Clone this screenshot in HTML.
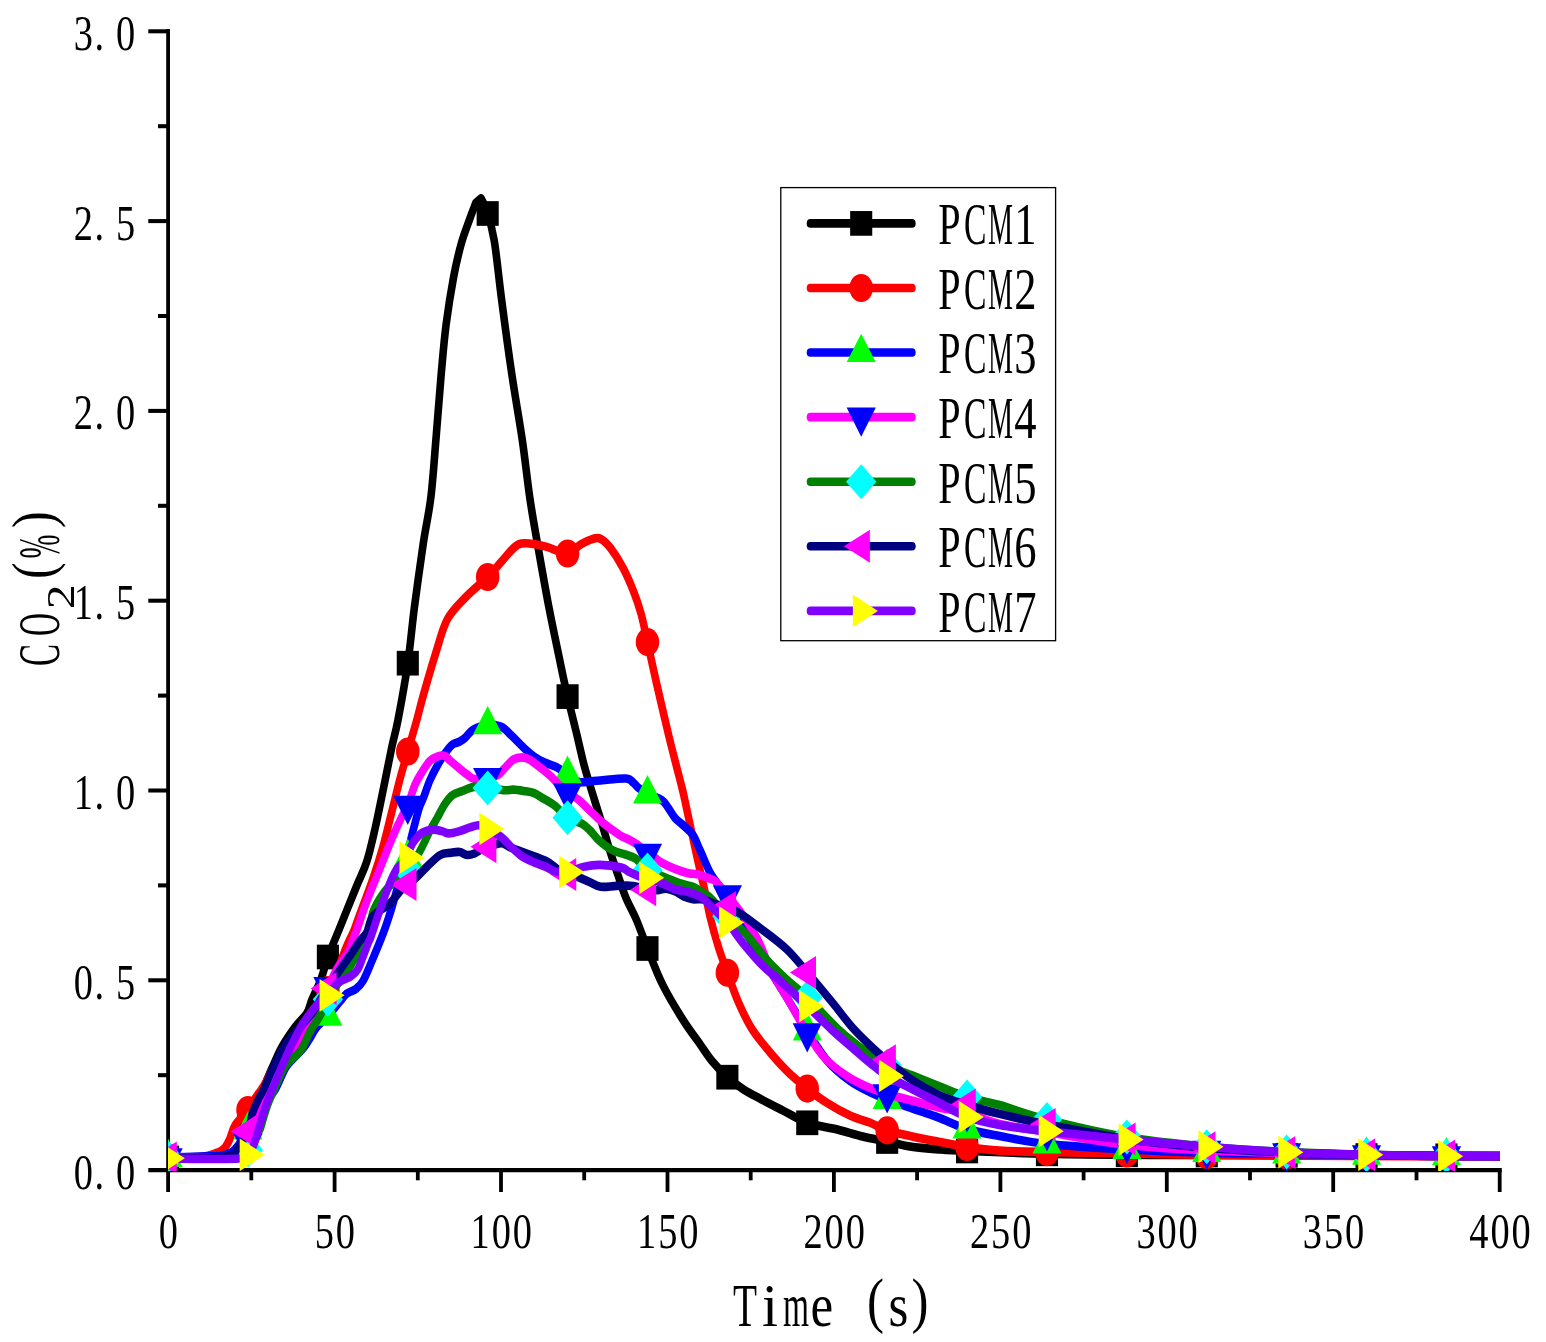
<!DOCTYPE html>
<html lang="en"><head><meta charset="utf-8"><title>CO2 vs Time</title>
<style>
html,body{margin:0;padding:0;background:#fff;}
svg{display:block;}
text{font-family:"Liberation Serif","Noto Serif CJK SC",serif;fill:#000;}
</style></head><body>
<svg width="1546" height="1342" viewBox="0 0 1546 1342">
<rect width="1546" height="1342" fill="#fff"/>
<defs><clipPath id="plot"><rect x="168.1" y="29" width="1331.9" height="1142.1"/></clipPath></defs>

<g stroke="#000" fill="none" stroke-linecap="butt">
<g stroke-width="3.8">
<path d="M168.1,28.9V1192"/>
<path d="M251.3,1170.1V1180.3"/>
<path d="M334.6,1170.1V1192"/>
<path d="M417.8,1170.1V1180.3"/>
<path d="M501.0,1170.1V1192"/>
<path d="M584.2,1170.1V1180.3"/>
<path d="M667.5,1170.1V1192"/>
<path d="M750.7,1170.1V1180.3"/>
<path d="M833.9,1170.1V1192"/>
<path d="M917.1,1170.1V1180.3"/>
<path d="M1000.4,1170.1V1192"/>
<path d="M1083.6,1170.1V1180.3"/>
<path d="M1166.8,1170.1V1192"/>
<path d="M1250.0,1170.1V1180.3"/>
<path d="M1333.2,1170.1V1192"/>
<path d="M1416.5,1170.1V1180.3"/>
<path d="M1499.7,1170.1V1192"/>
</g><g stroke-width="4.05">
<path d="M148.3,1170.1H1501.8"/>
<path d="M158,1075.2H168.1"/>
<path d="M148.3,980.3H168.1"/>
<path d="M158,885.4H168.1"/>
<path d="M148.3,790.5H168.1"/>
<path d="M158,695.6H168.1"/>
<path d="M148.3,600.7H168.1"/>
<path d="M158,505.8H168.1"/>
<path d="M148.3,410.9H168.1"/>
<path d="M158,316.0H168.1"/>
<path d="M148.3,221.1H168.1"/>
<path d="M158,126.2H168.1"/>
<path d="M148.3,31.3H168.1"/>
</g></g>
<text transform="translate(0,1188.5) scale(0.900,1.165)" font-size="42.7" x="81.9 105.1 128.8" y="0">0.0</text>
<text transform="translate(0,998.7) scale(0.900,1.165)" font-size="42.7" x="81.9 105.1 128.8" y="0">0.5</text>
<text transform="translate(0,808.9) scale(0.900,1.165)" font-size="42.7" x="81.9 105.1 128.8" y="0">1.0</text>
<text transform="translate(0,619.1) scale(0.900,1.165)" font-size="42.7" x="81.9 105.1 128.8" y="0">1.5</text>
<text transform="translate(0,429.3) scale(0.900,1.165)" font-size="42.7" x="81.9 105.1 128.8" y="0">2.0</text>
<text transform="translate(0,239.5) scale(0.900,1.165)" font-size="42.7" x="81.9 105.1 128.8" y="0">2.5</text>
<text transform="translate(0,49.7) scale(0.900,1.165)" font-size="42.7" x="81.9 105.1 128.8" y="0">3.0</text>
<text transform="translate(0,1248.0) scale(0.900,1.165)" font-size="42.7" x="176.4" y="0">0</text>
<text transform="translate(0,1248.0) scale(0.900,1.165)" font-size="42.7" x="349.7 373.1" y="0">50</text>
<text transform="translate(0,1248.0) scale(0.900,1.165)" font-size="42.7" x="522.9 546.3 569.8" y="0">100</text>
<text transform="translate(0,1248.0) scale(0.900,1.165)" font-size="42.7" x="707.8 731.3 754.7" y="0">150</text>
<text transform="translate(0,1248.0) scale(0.900,1.165)" font-size="42.7" x="892.8 916.2 939.7" y="0">200</text>
<text transform="translate(0,1248.0) scale(0.900,1.165)" font-size="42.7" x="1077.7 1101.2 1124.6" y="0">250</text>
<text transform="translate(0,1248.0) scale(0.900,1.165)" font-size="42.7" x="1262.7 1286.1 1309.5" y="0">300</text>
<text transform="translate(0,1248.0) scale(0.900,1.165)" font-size="42.7" x="1447.6 1471.0 1494.5" y="0">350</text>
<text transform="translate(0,1248.0) scale(0.900,1.165)" font-size="42.7" x="1632.5 1656.0 1679.4" y="0">400</text>
<text aria-label="Time (s)" transform="translate(0,1325.9) scale(1,1.19)" font-size="51" y="0"><tspan x="733" textLength="24" lengthAdjust="spacingAndGlyphs">T</tspan><tspan x="762" textLength="16" lengthAdjust="spacingAndGlyphs">i</tspan><tspan x="783" textLength="26" lengthAdjust="spacingAndGlyphs">m</tspan><tspan x="810.5">e</tspan><tspan x="835"> </tspan><tspan x="867" dy="-4.4">(</tspan><tspan x="888.5" dy="4.4">s</tspan><tspan x="911.5" dy="-4.4">)</tspan></text>
<text aria-label="CO2(%)" transform="translate(59,0) rotate(-90) scale(1,1.2)" font-size="50" y="0"><tspan x="-666" textLength="22" lengthAdjust="spacingAndGlyphs">C</tspan><tspan x="-636" textLength="23" lengthAdjust="spacingAndGlyphs">O</tspan><tspan x="-609.2" dy="12.5" font-size="33.5" textLength="25" lengthAdjust="spacingAndGlyphs">2</tspan><tspan x="-579" dy="-17.9">(</tspan><tspan x="-558.5" dy="5.4" textLength="24" lengthAdjust="spacingAndGlyphs">%</tspan><tspan x="-528" dy="-5.4">)</tspan></text>
<g clip-path="url(#plot)"><g transform="scale(1,1.132)">
<path d="M168.1,1022.97C174.2,1022.97 195.0,1023.26 205.0,1022.97C215.0,1022.67 222.8,1022.38 228.0,1021.20C233.2,1020.02 233.7,1017.96 236.0,1015.90C238.3,1013.84 240.2,1011.63 242.0,1008.83C243.8,1006.04 245.4,1003.39 247.0,999.12C248.6,994.85 249.8,987.78 251.5,983.22C253.2,978.65 255.2,975.12 257.0,971.73C258.8,968.35 259.8,967.74 262.4,962.90C265.0,958.05 269.2,949.01 272.5,942.67C275.8,936.32 278.2,930.76 282.0,924.82C285.8,918.89 291.2,912.00 295.3,907.07C299.4,902.13 304.0,899.03 306.7,895.23C309.4,891.43 310.1,887.07 311.4,884.28C312.7,881.48 312.8,881.52 314.3,878.45C315.9,875.37 318.4,871.32 320.7,865.81C323.0,860.31 325.9,850.54 327.9,845.41C329.9,840.27 330.8,838.96 332.6,834.98C334.4,831.01 334.9,830.14 338.9,821.55C342.8,812.97 351.7,793.52 356.3,783.48C360.9,773.44 363.6,769.91 366.7,761.31C369.8,752.71 372.3,742.64 375.1,731.89C377.9,721.14 380.6,708.80 383.4,696.82C386.2,684.84 389.4,670.11 391.8,659.98C394.2,649.85 395.3,648.40 398.0,636.04C400.7,623.69 405.0,602.55 407.8,585.87C410.5,569.18 411.9,553.61 414.5,535.95C417.1,518.30 420.6,496.10 423.3,479.95C426.0,463.80 428.8,454.45 430.9,439.05C433.0,423.65 434.3,405.45 436.0,387.54C437.7,369.64 439.4,348.41 441.1,331.63C442.8,314.84 444.0,301.40 446.1,286.84C448.2,272.28 451.2,256.20 453.7,244.26C456.2,232.32 458.7,223.57 461.3,215.19C463.9,206.82 467.1,199.97 469.5,193.99C471.9,188.02 474.8,181.77 475.8,179.33C476.7,178.64 480.1,175.87 481.0,175.18C482.0,177.05 484.7,180.11 486.9,186.40C489.1,192.68 491.8,199.51 494.3,212.90C496.8,226.28 498.9,246.91 501.9,266.70C504.8,286.48 508.6,311.48 512.0,331.63C515.4,351.77 519.1,369.64 522.1,387.54C525.1,405.45 527.2,423.65 529.7,439.05C532.2,454.45 534.2,463.80 537.4,479.95C540.6,496.10 545.0,518.42 548.8,535.95C552.6,553.49 557.1,571.92 560.2,585.16C563.3,598.40 564.7,604.34 567.6,615.37C570.5,626.40 574.7,640.95 577.5,651.33C580.3,661.70 581.8,668.42 584.6,677.65C587.4,686.88 591.7,698.57 594.5,706.71C597.3,714.86 599.1,719.13 601.6,726.50C604.1,733.88 607.0,743.35 609.7,750.97C612.4,758.60 615.0,765.28 617.7,772.26C620.4,779.24 622.7,786.10 625.8,792.84C628.9,799.59 632.9,805.21 636.5,812.72C640.1,820.23 643.1,828.33 647.5,837.90C651.9,847.47 656.7,859.38 662.8,870.14C668.9,880.90 677.8,893.67 684.1,902.47C690.4,911.28 695.9,917.17 700.5,922.97C705.1,928.77 707.5,932.51 712.0,937.28C716.5,942.05 722.1,947.39 727.4,951.59C732.6,955.79 737.9,959.20 743.6,962.46C749.3,965.71 755.0,968.12 761.3,971.11C767.6,974.10 773.9,976.93 781.6,980.39C789.3,983.85 798.0,988.97 807.3,991.87C816.6,994.77 828.2,995.77 837.4,997.79C846.6,999.81 854.4,1002.21 862.7,1003.98C871.0,1005.74 879.3,1006.92 887.2,1008.39C895.0,1009.86 901.4,1011.65 910.0,1012.81C918.6,1013.97 929.2,1014.71 938.7,1015.37C948.2,1016.03 949.0,1016.14 967.1,1016.78C985.1,1017.43 1020.3,1018.70 1047.0,1019.26C1073.6,1019.82 1100.2,1019.96 1126.9,1020.14C1153.5,1020.32 1169.6,1020.21 1206.7,1020.32C1243.9,1020.42 1301.1,1020.61 1350.0,1020.76C1398.9,1020.91 1475.0,1021.13 1500.0,1021.20" fill="none" stroke="#000000" stroke-width="7.6" stroke-linejoin="round" stroke-linecap="butt"/>
<rect x="157.05" y="1012.06" width="22.1" height="21.82" fill="#000000"/><rect x="236.95" y="985.07" width="22.1" height="21.82" fill="#000000"/><rect x="316.84" y="834.50" width="22.1" height="21.82" fill="#000000"/><rect x="396.74" y="574.96" width="22.1" height="21.82" fill="#000000"/><rect x="476.63" y="177.69" width="22.1" height="21.82" fill="#000000"/><rect x="556.53" y="604.46" width="22.1" height="21.82" fill="#000000"/><rect x="636.43" y="826.99" width="22.1" height="21.82" fill="#000000"/><rect x="716.32" y="940.68" width="22.1" height="21.82" fill="#000000"/><rect x="796.22" y="980.96" width="22.1" height="21.82" fill="#000000"/><rect x="876.11" y="997.48" width="22.1" height="21.82" fill="#000000"/><rect x="956.01" y="1005.87" width="22.1" height="21.82" fill="#000000"/><rect x="1035.91" y="1008.35" width="22.1" height="21.82" fill="#000000"/><rect x="1115.80" y="1009.23" width="22.1" height="21.82" fill="#000000"/><rect x="1195.70" y="1009.41" width="22.1" height="21.82" fill="#000000"/><rect x="1275.59" y="1009.65" width="22.1" height="21.82" fill="#000000"/><rect x="1355.49" y="1009.90" width="22.1" height="21.82" fill="#000000"/><rect x="1435.39" y="1010.13" width="22.1" height="21.82" fill="#000000"/>
<path d="M168.1,1022.53C173.4,1022.45 193.2,1022.38 200.0,1022.08C206.8,1021.79 206.5,1021.28 209.0,1020.76C211.5,1020.24 213.1,1019.58 214.9,1018.99C216.7,1018.40 218.2,1018.18 220.0,1017.23C221.8,1016.27 223.8,1015.09 225.4,1013.25C227.0,1011.41 228.2,1009.42 229.8,1006.18C231.4,1002.94 232.2,998.09 235.2,993.82C238.2,989.55 244.5,984.69 248.0,980.57C251.5,976.44 253.8,972.03 256.0,969.08C258.2,966.14 259.3,965.11 261.0,962.90C262.7,960.69 264.0,958.92 266.0,955.83C268.0,952.74 270.0,948.17 273.0,944.35C276.0,940.52 280.0,936.84 284.0,932.86C288.0,928.89 293.3,924.62 297.0,920.49C300.7,916.37 302.5,913.28 306.0,908.13C309.5,902.97 314.4,895.17 318.0,889.58C321.6,883.98 324.3,880.89 327.9,874.56C331.5,868.23 336.8,857.79 339.8,851.59C342.8,845.39 343.6,842.37 346.0,837.37C348.4,832.36 352.0,825.93 354.1,821.55C356.2,817.18 355.2,818.71 358.4,811.13C361.5,803.55 368.8,786.81 373.0,776.06C377.2,765.31 380.3,756.46 383.4,746.64C386.5,736.82 389.0,726.97 391.8,717.14C394.6,707.30 397.4,696.51 400.1,687.63C402.8,678.75 405.0,672.47 407.8,663.87C410.6,655.27 414.2,644.30 416.8,636.04C419.4,627.78 420.1,624.28 423.3,614.31C426.5,604.34 432.0,587.44 436.0,576.24C440.0,565.03 442.3,555.30 447.4,547.08C452.5,538.87 459.7,533.17 466.4,526.94C473.1,520.72 481.8,514.93 487.7,509.72C493.6,504.51 497.4,500.07 501.9,495.67C506.4,491.27 510.8,485.92 514.6,483.30C518.4,480.68 519.6,480.05 524.7,479.95C529.8,479.84 537.9,481.18 545.0,482.69C552.1,484.19 561.7,489.22 567.6,488.96C573.5,488.69 576.1,483.26 580.4,481.10C584.7,478.93 589.7,476.83 593.1,475.97C596.5,475.12 597.8,474.56 600.7,475.97C603.7,477.39 607.0,480.05 610.8,484.45C614.6,488.85 619.7,496.04 623.5,502.39C627.3,508.73 630.6,515.81 633.6,522.53C636.6,529.24 638.9,535.22 641.2,542.67C643.5,550.12 644.9,557.16 647.5,567.23C650.0,577.30 652.8,589.12 656.4,603.09C660.0,617.06 664.9,635.70 669.1,651.06C673.3,666.42 679.2,685.95 681.8,695.23C684.4,704.51 683.2,700.46 684.8,706.71C686.3,712.97 689.0,724.22 691.1,732.77C693.2,741.33 695.1,749.22 697.3,758.04C699.5,766.86 702.4,777.12 704.5,785.69C706.6,794.26 707.7,801.02 710.0,809.45C712.3,817.89 715.4,827.99 718.3,836.31C721.2,844.63 724.0,851.16 727.4,859.36C730.7,867.56 734.5,877.41 738.5,885.51C742.5,893.61 746.6,901.24 751.2,907.95C755.9,914.66 760.5,919.46 766.4,925.80C772.3,932.13 779.9,939.96 786.7,945.94C793.5,951.91 800.5,956.92 807.3,961.66C814.0,966.40 820.1,970.42 827.2,974.38C834.3,978.34 842.8,982.51 850.0,985.42C857.2,988.34 864.1,989.68 870.3,991.87C876.5,994.07 880.0,996.54 887.2,998.59C894.3,1000.63 904.8,1002.47 913.4,1004.15C922.0,1005.83 929.8,1007.14 938.7,1008.66C947.6,1010.17 956.9,1011.96 967.1,1013.25C977.2,1014.55 986.2,1015.68 999.5,1016.43C1012.8,1017.18 1025.7,1017.33 1047.0,1017.76C1068.2,1018.18 1100.2,1018.57 1126.9,1018.99C1153.5,1019.42 1169.6,1019.95 1206.7,1020.32C1243.9,1020.69 1301.1,1020.98 1350.0,1021.20C1398.9,1021.42 1475.0,1021.57 1500.0,1021.64" fill="none" stroke="#ff0000" stroke-width="7.6" stroke-linejoin="round" stroke-linecap="butt"/>
<ellipse cx="168.10" cy="1022.53" rx="11.75" ry="12.41" fill="#ff0000"/><ellipse cx="248.00" cy="980.57" rx="11.75" ry="12.41" fill="#ff0000"/><ellipse cx="327.89" cy="874.56" rx="11.75" ry="12.41" fill="#ff0000"/><ellipse cx="407.79" cy="663.87" rx="11.75" ry="12.41" fill="#ff0000"/><ellipse cx="487.68" cy="509.72" rx="11.75" ry="12.41" fill="#ff0000"/><ellipse cx="567.58" cy="488.96" rx="11.75" ry="12.41" fill="#ff0000"/><ellipse cx="647.48" cy="567.23" rx="11.75" ry="12.41" fill="#ff0000"/><ellipse cx="727.37" cy="859.36" rx="11.75" ry="12.41" fill="#ff0000"/><ellipse cx="807.27" cy="961.66" rx="11.75" ry="12.41" fill="#ff0000"/><ellipse cx="887.16" cy="998.59" rx="11.75" ry="12.41" fill="#ff0000"/><ellipse cx="967.06" cy="1013.25" rx="11.75" ry="12.41" fill="#ff0000"/><ellipse cx="1046.96" cy="1017.76" rx="11.75" ry="12.41" fill="#ff0000"/><ellipse cx="1126.85" cy="1018.99" rx="11.75" ry="12.41" fill="#ff0000"/><ellipse cx="1206.75" cy="1020.32" rx="11.75" ry="12.41" fill="#ff0000"/><ellipse cx="1286.64" cy="1020.89" rx="11.75" ry="12.41" fill="#ff0000"/><ellipse cx="1366.54" cy="1021.27" rx="11.75" ry="12.41" fill="#ff0000"/><ellipse cx="1446.44" cy="1021.51" rx="11.75" ry="12.41" fill="#ff0000"/>
<path d="M168.1,1022.53C173.4,1022.39 191.3,1021.95 200.0,1021.73C208.7,1021.51 215.7,1021.51 220.0,1021.20C224.3,1020.89 223.8,1020.63 226.0,1019.88C228.2,1019.13 231.1,1018.39 233.4,1016.70C235.7,1015.00 237.6,1012.79 240.0,1009.72C242.4,1006.64 245.5,1001.91 248.0,998.23C250.5,994.55 252.7,991.17 255.0,987.63C257.3,984.10 259.8,979.98 262.0,977.03C264.2,974.09 265.8,972.32 268.0,969.96C270.2,967.61 272.0,967.45 275.0,962.90C278.0,958.35 282.6,947.60 286.0,942.67C289.4,937.74 292.4,936.28 295.5,933.30C298.6,930.33 301.7,927.77 304.3,924.82C306.9,921.88 308.9,918.60 311.0,915.64C313.1,912.68 314.2,910.06 317.0,907.07C319.8,904.08 324.1,901.41 327.9,897.70C331.7,893.99 336.6,888.15 339.8,884.81C343.0,881.46 344.2,879.51 346.9,877.65C349.6,875.80 353.2,875.52 355.9,873.67C358.6,871.83 360.4,870.58 363.0,866.61C365.6,862.63 368.1,856.92 371.5,849.82C374.9,842.73 380.0,832.02 383.4,824.03C386.8,816.03 389.0,809.85 391.8,801.86C394.6,793.86 397.4,783.42 400.1,776.06C402.8,768.70 406.1,763.12 407.8,757.69C409.5,752.25 409.2,748.47 410.4,743.46C411.6,738.46 413.4,732.70 414.9,727.65C416.4,722.60 417.9,717.11 419.4,713.16C420.9,709.22 422.1,707.92 423.8,703.98C425.5,700.03 427.6,694.10 429.8,689.49C432.1,684.88 434.8,680.27 437.3,676.33C439.8,672.38 442.2,668.89 444.7,665.81C447.2,662.74 449.7,659.63 452.2,657.86C454.7,656.10 457.4,656.30 459.6,655.21C461.8,654.12 463.4,653.08 465.6,651.33C467.8,649.57 469.3,646.54 473.0,644.70C476.7,642.86 484.0,640.95 487.7,640.28C491.4,639.62 492.9,640.31 495.4,640.72C497.9,641.14 500.1,641.21 502.8,642.76C505.5,644.30 508.3,647.04 511.8,650.00C515.3,652.96 520.0,657.45 523.7,660.51C527.4,663.57 530.6,666.18 534.1,668.37C537.6,670.57 540.9,672.13 544.6,673.67C548.3,675.22 552.7,675.90 556.5,677.65C560.3,679.40 563.9,681.99 567.6,684.19C571.3,686.38 574.9,689.83 578.8,690.81C582.7,691.80 587.3,690.33 590.8,690.11C594.3,689.89 594.1,689.89 600.0,689.49C605.9,689.09 620.4,687.35 626.0,687.72C631.6,688.09 631.5,690.28 633.6,691.70C635.7,693.11 636.4,694.58 638.7,696.20C641.0,697.82 643.7,699.66 647.5,701.41C651.3,703.17 658.2,704.77 661.6,706.71C665.0,708.66 665.6,710.44 667.8,713.07C670.0,715.71 672.3,719.77 675.0,722.53C677.7,725.28 680.9,727.09 683.9,729.59C686.9,732.10 690.2,733.98 692.9,737.54C695.6,741.11 697.1,745.44 700.0,750.97C702.9,756.51 707.0,765.62 710.0,770.76C713.0,775.90 715.4,777.16 718.3,781.80C721.2,786.44 720.2,788.02 727.4,798.59C734.5,809.16 753.5,834.48 761.3,845.23C769.1,855.98 769.8,857.10 774.0,863.07C778.2,869.05 781.2,873.14 786.7,881.10C792.2,889.05 800.5,901.46 807.3,910.78C814.0,920.10 820.1,929.65 827.2,937.01C834.3,944.38 842.8,950.28 850.0,954.95C857.2,959.61 864.1,962.29 870.3,965.02C876.5,967.74 880.0,968.88 887.2,971.29C894.3,973.70 904.8,976.83 913.4,979.51C922.0,982.18 929.8,984.39 938.7,987.37C947.6,990.34 956.9,994.66 967.1,997.35C977.2,1000.04 986.2,1001.33 999.5,1003.53C1012.8,1005.74 1025.7,1008.63 1047.0,1010.60C1068.2,1012.57 1100.2,1014.12 1126.9,1015.37C1153.5,1016.62 1180.1,1017.43 1206.7,1018.11C1233.4,1018.79 1254.4,1018.99 1286.6,1019.43C1318.9,1019.88 1364.4,1020.47 1400.0,1020.76C1435.6,1021.05 1483.3,1021.13 1500.0,1021.20" fill="none" stroke="#0000ff" stroke-width="7.6" stroke-linejoin="round" stroke-linecap="butt"/>
<polygon points="153.60,1030.92 182.60,1030.92 168.10,1005.83" fill="#00ff00"/><polygon points="233.50,1006.63 262.50,1006.63 248.00,981.54" fill="#00ff00"/><polygon points="313.39,906.10 342.39,906.10 327.89,881.01" fill="#00ff00"/><polygon points="393.29,766.08 422.29,766.08 407.79,740.99" fill="#00ff00"/><polygon points="473.18,648.67 502.18,648.67 487.68,623.59" fill="#00ff00"/><polygon points="553.08,692.58 582.08,692.58 567.58,667.49" fill="#00ff00"/><polygon points="632.98,709.81 661.98,709.81 647.48,684.72" fill="#00ff00"/><polygon points="712.87,806.98 741.87,806.98 727.37,781.89" fill="#00ff00"/><polygon points="792.77,919.17 821.77,919.17 807.27,894.08" fill="#00ff00"/><polygon points="872.66,979.68 901.66,979.68 887.16,954.59" fill="#00ff00"/><polygon points="952.56,1005.74 981.56,1005.74 967.06,980.65" fill="#00ff00"/><polygon points="1032.46,1018.99 1061.46,1018.99 1046.96,993.90" fill="#00ff00"/><polygon points="1112.35,1023.76 1141.35,1023.76 1126.85,998.67" fill="#00ff00"/><polygon points="1192.25,1026.50 1221.25,1026.50 1206.75,1001.41" fill="#00ff00"/><polygon points="1272.14,1027.83 1301.14,1027.83 1286.64,1002.74" fill="#00ff00"/><polygon points="1352.04,1028.83 1381.04,1028.83 1366.54,1003.74" fill="#00ff00"/><polygon points="1431.94,1029.42 1460.94,1029.42 1446.44,1004.33" fill="#00ff00"/>
<path d="M168.1,1022.97C175.9,1022.89 203.3,1022.82 215.0,1022.53C226.7,1022.23 233.2,1022.31 238.0,1021.20C242.8,1020.10 242.3,1017.79 244.0,1015.90C245.7,1014.02 246.7,1012.84 248.0,1009.89C249.3,1006.95 250.7,1001.94 252.0,998.23C253.3,994.52 254.5,991.17 256.0,987.63C257.5,984.10 259.3,980.12 261.0,977.03C262.7,973.94 264.0,971.88 266.0,969.08C268.0,966.28 270.2,964.65 273.0,960.25C275.8,955.85 279.0,948.57 283.0,942.67C287.0,936.76 293.1,930.76 297.0,924.82C300.9,918.89 303.4,912.94 306.6,907.07C309.8,901.19 312.5,895.47 316.0,889.58C319.5,883.69 324.3,877.47 327.9,871.73C331.5,865.99 334.1,860.19 337.5,855.12C340.9,850.06 345.5,845.36 348.0,841.34C350.5,837.32 351.0,834.31 352.5,831.01C354.0,827.71 354.4,827.33 356.8,821.55C359.2,815.78 362.9,805.18 366.7,796.38C370.4,787.57 375.1,777.94 379.3,768.73C383.5,759.51 388.0,749.06 391.8,741.08C395.6,733.10 399.5,725.77 402.2,720.85C404.9,715.93 405.7,716.15 407.8,711.57C409.9,706.99 412.5,698.38 414.9,693.37C417.3,688.37 419.9,685.04 422.4,681.54C424.9,678.03 427.3,674.54 429.8,672.35C432.3,670.16 434.8,669.14 437.3,668.37C439.8,667.61 442.5,667.09 444.7,667.76C446.9,668.42 448.2,670.48 450.7,672.35C453.2,674.22 456.9,677.00 459.6,678.98C462.3,680.95 464.6,682.66 467.1,684.19C469.6,685.72 471.1,687.68 474.5,688.16C477.9,688.65 483.7,687.77 487.7,687.10C491.7,686.44 495.6,685.54 498.4,684.19C501.2,682.83 501.8,681.17 504.3,678.98C506.8,676.78 510.3,672.67 513.3,671.02C516.3,669.38 519.5,669.08 522.2,669.08C524.9,669.08 526.5,669.38 529.7,671.02C532.9,672.67 537.9,676.34 541.6,678.98C545.3,681.61 548.8,684.13 552.0,686.84C555.2,689.55 558.4,692.95 561.0,695.23C563.6,697.51 564.6,698.63 567.6,700.53C570.5,702.43 575.1,704.02 578.8,706.63C582.5,709.23 585.9,712.72 590.0,716.17C594.1,719.61 598.5,723.73 603.4,727.30C608.3,730.86 615.3,735.17 619.5,737.54C623.7,739.91 625.5,740.08 628.5,741.52C631.5,742.96 634.2,744.13 637.4,746.20C640.6,748.28 644.5,752.00 647.5,753.98C650.5,755.95 652.9,756.70 655.3,758.04C657.7,759.38 658.3,760.42 661.6,762.01C664.9,763.60 670.5,766.00 675.0,767.58C679.5,769.15 684.7,770.69 688.4,771.47C692.1,772.25 693.7,771.47 697.3,772.26C700.9,773.06 706.9,775.16 710.0,776.24C713.1,777.31 712.8,776.31 715.7,778.71C718.6,781.11 722.7,785.51 727.4,790.64C732.0,795.76 738.4,802.59 743.6,809.45C748.8,816.31 754.1,823.60 758.8,831.80C763.4,840.00 766.9,850.44 771.5,858.66C776.1,866.87 780.7,872.11 786.7,881.10C792.7,890.08 800.9,903.62 807.3,912.54C813.6,921.47 818.0,928.22 824.7,934.63C831.4,941.03 840.3,946.70 847.5,950.97C854.7,955.24 861.2,957.67 867.8,960.25C874.4,962.82 879.6,964.37 887.2,966.43C894.8,968.49 904.8,970.63 913.4,972.61C922.0,974.60 929.8,976.59 938.7,978.36C947.6,980.12 956.9,980.79 967.1,983.22C977.2,985.64 986.2,990.14 999.5,992.93C1012.8,995.73 1025.7,996.95 1047.0,1000.00C1068.2,1003.05 1100.2,1008.50 1126.9,1011.22C1153.5,1013.94 1180.1,1015.12 1206.7,1016.34C1233.4,1017.56 1254.4,1017.82 1286.6,1018.55C1318.9,1019.29 1364.4,1020.32 1400.0,1020.76C1435.6,1021.20 1483.3,1021.13 1500.0,1021.20" fill="none" stroke="#ff00ff" stroke-width="7.6" stroke-linejoin="round" stroke-linecap="butt"/>
<polygon points="153.50,1014.40 182.70,1014.40 168.10,1040.19" fill="#0000ff"/><polygon points="233.40,1001.33 262.60,1001.33 248.00,1027.12" fill="#0000ff"/><polygon points="313.29,863.16 342.49,863.16 327.89,888.96" fill="#0000ff"/><polygon points="393.19,703.00 422.39,703.00 407.79,728.80" fill="#0000ff"/><polygon points="473.08,678.53 502.28,678.53 487.68,704.33" fill="#0000ff"/><polygon points="552.98,691.96 582.18,691.96 567.58,717.76" fill="#0000ff"/><polygon points="632.88,745.41 662.08,745.41 647.48,771.20" fill="#0000ff"/><polygon points="712.77,782.07 741.97,782.07 727.37,807.86" fill="#0000ff"/><polygon points="792.67,903.98 821.87,903.98 807.27,929.77" fill="#0000ff"/><polygon points="872.56,957.86 901.76,957.86 887.16,983.66" fill="#0000ff"/><polygon points="952.46,974.65 981.66,974.65 967.06,1000.44" fill="#0000ff"/><polygon points="1032.36,991.43 1061.56,991.43 1046.96,1017.23" fill="#0000ff"/><polygon points="1112.25,1002.65 1141.45,1002.65 1126.85,1028.45" fill="#0000ff"/><polygon points="1192.15,1007.77 1221.35,1007.77 1206.75,1033.57" fill="#0000ff"/><polygon points="1272.04,1009.98 1301.24,1009.98 1286.64,1035.78" fill="#0000ff"/><polygon points="1351.94,1011.67 1381.14,1011.67 1366.54,1037.46" fill="#0000ff"/><polygon points="1431.84,1012.52 1461.04,1012.52 1446.44,1038.31" fill="#0000ff"/>
<path d="M168.1,1022.97C175.9,1022.89 203.0,1022.82 215.0,1022.53C227.0,1022.23 234.5,1022.31 240.0,1021.20C245.5,1020.10 245.8,1017.82 248.0,1015.90C250.2,1013.99 251.5,1012.22 253.0,1009.72C254.5,1007.21 255.8,1002.89 257.0,1000.88C258.2,998.88 258.8,1000.21 260.0,997.70C261.2,995.20 262.6,989.81 264.0,985.87C265.4,981.92 266.8,977.86 268.5,974.03C270.2,970.20 271.3,968.12 274.0,962.90C276.7,957.67 281.3,947.53 284.7,942.67C288.1,937.81 291.5,936.34 294.3,933.75C297.1,931.15 299.4,929.92 301.5,927.12C303.6,924.32 305.4,919.83 307.0,916.96C308.6,914.09 308.8,913.13 311.0,909.89C313.2,906.65 317.2,902.05 320.0,897.53C322.8,893.01 324.3,888.32 327.9,882.77C331.5,877.22 337.8,869.15 341.6,864.22C345.4,859.29 347.5,857.26 350.5,853.18C353.5,849.10 356.4,844.23 359.4,839.75C362.4,835.28 366.1,832.02 368.4,826.33C370.7,820.63 370.5,811.79 373.0,805.57C375.5,799.34 379.6,793.65 383.4,788.96C387.2,784.26 391.9,780.79 396.0,777.39C400.1,773.98 403.9,772.67 407.8,768.55C411.7,764.43 415.7,758.38 419.4,752.65C423.1,746.92 426.8,739.24 429.8,734.19C432.8,729.14 434.8,726.30 437.3,722.35C439.8,718.40 442.2,713.80 444.7,710.51C447.2,707.23 449.2,704.62 452.2,702.65C455.2,700.68 458.9,699.93 462.6,698.67C466.3,697.42 470.3,695.58 474.5,695.14C478.7,694.70 482.7,695.54 487.7,696.02C492.7,696.51 500.0,697.81 504.3,698.06C508.6,698.31 510.1,697.42 513.3,697.53C516.5,697.63 520.2,698.16 523.7,698.67C527.2,699.19 530.9,699.51 534.1,700.62C537.3,701.72 539.6,703.43 543.1,705.30C546.6,707.17 550.9,709.00 555.0,711.84C559.1,714.68 563.1,719.71 567.6,722.35C572.0,724.99 578.1,725.78 581.8,727.65C585.5,729.52 587.1,731.12 590.0,733.57C592.9,736.01 595.2,739.41 598.9,742.31C602.6,745.21 607.9,748.87 612.4,750.97C616.9,753.08 622.1,753.77 625.8,754.95C629.5,756.12 632.3,756.86 634.7,758.04C637.1,759.22 638.0,760.26 640.1,762.01C642.2,763.77 643.9,766.58 647.5,768.55C651.1,770.52 657.8,772.44 661.6,773.85C665.4,775.27 667.5,775.97 670.5,777.03C673.5,778.09 675.7,779.15 679.4,780.21C683.1,781.27 689.2,782.08 692.9,783.39C696.6,784.70 698.9,786.50 701.8,788.07C704.6,789.65 705.7,789.28 710.0,792.84C714.3,796.41 721.4,804.08 727.4,809.45C733.4,814.83 739.6,818.76 746.1,825.09C752.6,831.42 759.6,840.72 766.4,847.44C773.2,854.15 779.9,859.76 786.7,865.37C793.5,870.98 798.8,873.90 807.3,881.10C815.7,888.30 829.0,901.49 837.4,908.57C845.8,915.65 850.9,918.95 857.6,923.59C864.4,928.22 873.0,933.38 877.9,936.40C882.8,939.41 881.2,939.36 887.2,941.70C893.1,944.04 904.8,947.50 913.4,950.44C922.0,953.39 929.8,956.26 938.7,959.36C947.6,962.47 956.9,966.28 967.1,969.08C977.2,971.88 986.2,972.82 999.5,976.15C1012.8,979.48 1025.7,984.32 1047.0,989.05C1068.2,993.77 1100.2,1000.50 1126.9,1004.51C1153.5,1008.51 1180.1,1010.88 1206.7,1013.07C1233.4,1015.27 1254.4,1016.39 1286.6,1017.67C1318.9,1018.95 1364.4,1020.17 1400.0,1020.76C1435.6,1021.35 1483.3,1021.13 1500.0,1021.20" fill="none" stroke="#008000" stroke-width="7.6" stroke-linejoin="round" stroke-linecap="butt"/>
<polygon points="152.95,1022.97 168.10,1007.51 183.25,1022.97 168.10,1038.43" fill="#00ffff"/><polygon points="232.85,1015.90 248.00,1000.44 263.15,1015.90 248.00,1031.36" fill="#00ffff"/><polygon points="312.74,882.77 327.89,867.31 343.04,882.77 327.89,898.23" fill="#00ffff"/><polygon points="392.64,768.55 407.79,753.09 422.94,768.55 407.79,784.01" fill="#00ffff"/><polygon points="472.53,696.02 487.68,680.57 502.83,696.02 487.68,711.48" fill="#00ffff"/><polygon points="552.43,722.35 567.58,706.89 582.73,722.35 567.58,737.81" fill="#00ffff"/><polygon points="632.33,768.55 647.48,753.09 662.63,768.55 647.48,784.01" fill="#00ffff"/><polygon points="712.22,809.45 727.37,793.99 742.52,809.45 727.37,824.91" fill="#00ffff"/><polygon points="792.12,881.10 807.27,865.64 822.42,881.10 807.27,896.55" fill="#00ffff"/><polygon points="872.01,941.70 887.16,926.24 902.31,941.70 887.16,957.16" fill="#00ffff"/><polygon points="951.91,969.08 967.06,953.62 982.21,969.08 967.06,984.54" fill="#00ffff"/><polygon points="1031.81,989.05 1046.96,973.59 1062.11,989.05 1046.96,1004.51" fill="#00ffff"/><polygon points="1111.70,1004.51 1126.85,989.05 1142.00,1004.51 1126.85,1019.96" fill="#00ffff"/><polygon points="1191.60,1013.07 1206.75,997.61 1221.90,1013.07 1206.75,1028.53" fill="#00ffff"/><polygon points="1271.49,1017.67 1286.64,1002.21 1301.79,1017.67 1286.64,1033.13" fill="#00ffff"/><polygon points="1351.39,1020.09 1366.54,1004.63 1381.69,1020.09 1366.54,1035.55" fill="#00ffff"/><polygon points="1431.29,1021.15 1446.44,1005.69 1461.59,1021.15 1446.44,1036.61" fill="#00ffff"/>
<path d="M168.1,1022.97C175.9,1022.89 204.3,1022.97 215.0,1022.53C225.7,1022.08 228.3,1021.55 232.0,1020.32C235.7,1019.08 235.5,1016.87 237.0,1015.11C238.5,1013.34 239.2,1012.32 241.0,1009.72C242.8,1007.11 246.1,1003.89 248.0,999.47C249.9,995.05 250.8,987.84 252.5,983.22C254.2,978.59 256.2,975.12 258.0,971.73C259.8,968.35 260.8,967.74 263.4,962.90C266.0,958.05 270.2,949.01 273.6,942.67C277.0,936.32 279.5,930.76 283.9,924.82C288.3,918.89 295.3,912.00 300.0,907.07C304.7,902.13 308.7,899.18 312.0,895.23C315.3,891.28 317.4,887.06 320.0,883.39C322.6,879.73 324.9,877.22 327.9,873.23C330.9,869.24 334.2,864.38 338.0,859.45C341.8,854.52 346.9,848.25 350.5,843.64C354.1,839.03 356.7,835.09 359.4,831.80C362.1,828.52 364.3,827.69 366.6,823.94C368.9,820.19 369.1,813.56 373.0,809.28C376.9,804.99 385.2,801.93 389.7,798.23C394.2,794.54 397.1,789.91 400.1,787.10C403.1,784.29 405.3,783.16 407.8,781.36C410.3,779.56 411.7,778.92 414.9,776.33C418.1,773.73 422.6,769.32 426.8,765.81C431.0,762.31 436.2,757.38 440.2,755.30C444.2,753.22 447.5,753.80 450.7,753.36C453.9,752.92 456.9,752.33 459.6,752.65C462.3,752.97 464.6,755.08 467.1,755.30C469.6,755.52 472.0,754.86 474.5,753.98C477.0,753.09 479.8,750.99 482.0,750.00C484.2,749.01 484.5,748.93 487.7,748.06C490.9,747.19 497.5,744.68 501.3,744.79C505.1,744.89 506.1,747.14 510.3,748.67C514.5,750.21 520.8,751.99 526.7,753.98C532.7,755.96 541.0,758.41 546.0,760.60C551.0,762.79 552.9,765.14 556.5,767.14C560.1,769.14 563.9,771.30 567.6,772.61C571.3,773.93 575.1,773.87 578.8,775.00C582.5,776.13 586.4,778.02 590.0,779.42C593.6,780.82 596.2,782.86 600.7,783.39C605.2,783.92 611.4,782.73 616.8,782.60C622.2,782.46 627.8,782.04 632.9,782.60C638.0,783.16 643.6,785.31 647.5,785.95C651.4,786.60 653.1,786.65 656.2,786.48C659.3,786.32 662.9,784.85 666.0,784.98C669.1,785.11 672.0,786.10 675.0,787.28C678.0,788.46 680.9,790.86 683.9,792.05C686.9,793.24 689.9,794.04 692.9,794.43C695.9,794.83 698.9,794.04 701.8,794.43C704.6,794.83 707.8,796.13 710.0,796.82C712.2,797.51 710.7,797.23 715.0,798.59C719.3,799.94 728.3,801.27 736.0,804.95C743.7,808.63 752.8,815.08 761.3,820.67C769.8,826.27 779.0,832.11 786.7,838.52C794.4,844.92 799.7,851.27 807.3,859.10C814.9,866.93 824.7,877.37 832.3,885.51C839.9,893.65 845.9,901.24 852.6,907.95C859.4,914.66 867.0,920.95 872.8,925.80C878.6,930.64 880.4,932.16 887.2,937.01C893.9,941.87 904.8,949.91 913.4,954.95C922.0,959.98 929.8,963.69 938.7,967.23C947.6,970.76 956.9,973.35 967.1,976.15C977.2,978.95 986.2,981.15 999.5,984.01C1012.8,986.87 1025.7,989.59 1047.0,993.29C1068.2,996.98 1100.2,1002.75 1126.9,1006.18C1153.5,1009.61 1180.1,1011.88 1206.7,1013.87C1233.4,1015.86 1254.4,1016.96 1286.6,1018.11C1318.9,1019.26 1364.4,1020.24 1400.0,1020.76C1435.6,1021.28 1483.3,1021.13 1500.0,1021.20" fill="none" stroke="#000080" stroke-width="7.6" stroke-linejoin="round" stroke-linecap="butt"/>
<polygon points="150.80,1022.97 176.80,1008.39 176.80,1037.54" fill="#ff00ff"/><polygon points="230.70,999.47 256.70,984.89 256.70,1014.05" fill="#ff00ff"/><polygon points="310.59,873.23 336.59,858.66 336.59,887.81" fill="#ff00ff"/><polygon points="390.49,781.36 416.49,766.78 416.49,795.94" fill="#ff00ff"/><polygon points="470.38,748.06 496.38,733.48 496.38,762.63" fill="#ff00ff"/><polygon points="550.28,772.61 576.28,758.04 576.28,787.19" fill="#ff00ff"/><polygon points="630.18,785.95 656.18,771.38 656.18,800.53" fill="#ff00ff"/><polygon points="710.07,801.75 736.07,787.18 736.07,816.33" fill="#ff00ff"/><polygon points="789.97,859.10 815.97,844.52 815.97,873.67" fill="#ff00ff"/><polygon points="869.86,937.01 895.86,922.44 895.86,951.59" fill="#ff00ff"/><polygon points="949.76,976.15 975.76,961.57 975.76,990.72" fill="#ff00ff"/><polygon points="1029.66,993.29 1055.66,978.71 1055.66,1007.86" fill="#ff00ff"/><polygon points="1109.55,1006.18 1135.55,991.61 1135.55,1020.76" fill="#ff00ff"/><polygon points="1189.45,1013.87 1215.45,999.29 1215.45,1028.45" fill="#ff00ff"/><polygon points="1269.34,1018.11 1295.34,1003.53 1295.34,1032.69" fill="#ff00ff"/><polygon points="1349.24,1020.19 1375.24,1005.61 1375.24,1034.76" fill="#ff00ff"/><polygon points="1429.14,1021.12 1455.14,1006.54 1455.14,1035.69" fill="#ff00ff"/>
<path d="M168.1,1023.23C173.4,1023.32 188.7,1023.70 200.0,1023.76C211.3,1023.82 228.8,1023.78 236.0,1023.59C243.2,1023.40 241.0,1023.19 243.0,1022.61C245.0,1022.04 246.6,1021.26 248.0,1020.14C249.4,1019.02 250.4,1017.64 251.5,1015.90C252.6,1014.16 253.3,1012.75 254.5,1009.72C255.7,1006.68 257.2,1001.68 258.5,997.70C259.8,993.73 261.1,989.81 262.5,985.87C263.9,981.92 265.4,977.86 267.0,974.03C268.6,970.20 269.7,968.12 272.1,962.90C274.5,957.67 278.4,949.01 281.5,942.67C284.6,936.32 287.4,930.76 290.6,924.82C293.9,918.89 297.8,912.00 301.0,907.07C304.2,902.13 307.6,898.19 310.0,895.23C312.4,892.27 313.6,891.21 315.4,889.31C317.2,887.41 318.9,885.51 321.0,883.83C323.1,882.16 325.1,881.85 327.9,879.24C330.7,876.63 334.2,870.97 338.0,868.20C341.8,865.43 347.2,864.61 350.5,862.63C353.8,860.66 355.6,859.26 357.7,856.36C359.8,853.46 361.2,849.19 363.0,845.23C364.8,841.27 367.1,835.53 368.4,832.60C369.7,829.67 369.1,832.16 370.9,827.65C372.7,823.14 376.5,812.62 379.3,805.57C382.1,798.51 384.8,791.48 387.6,785.34C390.4,779.20 392.6,773.34 396.0,768.73C399.4,764.12 405.4,761.03 407.8,757.69C410.2,754.34 409.2,751.27 410.4,748.67C411.6,746.08 412.9,744.33 414.9,742.14C416.9,739.94 419.4,737.04 422.4,735.51C425.4,733.98 429.6,733.17 432.8,732.95C436.0,732.73 439.0,733.64 441.7,734.19C444.4,734.73 446.2,736.22 449.2,736.22C452.2,736.22 456.1,735.07 459.6,734.19C463.1,733.30 466.8,731.79 470.0,730.92C473.2,730.05 476.1,728.75 479.0,728.98C481.9,729.20 484.0,730.49 487.7,732.24C491.4,734.00 497.3,736.75 501.3,739.49C505.3,742.23 508.3,745.82 511.8,748.67C515.3,751.53 518.5,754.43 522.2,756.63C525.9,758.82 530.1,760.31 534.1,761.84C538.1,763.37 542.5,764.49 546.0,765.81C549.5,767.14 551.4,769.02 555.0,769.79C558.6,770.55 562.9,771.07 567.6,770.41C572.3,769.74 577.9,766.87 583.3,765.81C588.7,764.75 593.7,763.96 600.0,764.05C606.3,764.13 616.5,765.36 621.3,766.34C626.0,767.33 625.7,768.71 628.5,769.96C631.3,771.22 635.1,772.94 638.3,773.85C641.5,774.76 643.2,774.25 647.5,775.44C651.8,776.63 659.6,779.30 664.2,781.01C668.8,782.71 671.0,784.51 675.0,785.69C679.0,786.87 683.9,786.88 688.4,788.07C692.9,789.27 698.2,790.87 701.8,792.84C705.4,794.82 705.7,796.22 710.0,799.91C714.3,803.61 721.8,809.33 727.4,815.02C733.0,820.70 737.9,827.86 743.6,834.01C749.3,840.16 755.0,846.33 761.3,851.94C767.6,857.55 773.9,861.51 781.6,867.67C789.3,873.82 798.8,881.79 807.3,888.87C815.7,895.95 824.7,904.00 832.3,910.16C839.9,916.31 846.3,920.95 852.6,925.80C858.9,930.64 864.5,935.11 870.3,939.22C876.1,943.33 880.0,946.53 887.2,950.44C894.3,954.36 904.8,958.80 913.4,962.72C922.0,966.64 929.8,969.94 938.7,973.94C947.6,977.94 956.9,983.44 967.1,986.75C977.2,990.06 986.2,991.73 999.5,993.82C1012.8,995.91 1025.7,997.14 1047.0,999.29C1068.2,1001.44 1100.2,1004.43 1126.9,1006.71C1153.5,1009.00 1180.1,1011.13 1206.7,1012.99C1233.4,1014.84 1260.0,1016.65 1286.6,1017.84C1313.3,1019.04 1339.9,1019.55 1366.5,1020.14C1393.2,1020.73 1424.2,1021.17 1446.4,1021.38C1468.7,1021.58 1491.1,1021.38 1500.0,1021.38" fill="none" stroke="#8000ff" stroke-width="7.6" stroke-linejoin="round" stroke-linecap="butt"/>
<polygon points="184.80,1023.23 159.80,1008.79 159.80,1037.68" fill="#ffff00"/><polygon points="264.70,1020.14 239.70,1005.70 239.70,1034.58" fill="#ffff00"/><polygon points="344.59,879.24 319.59,864.80 319.59,893.68" fill="#ffff00"/><polygon points="424.49,757.69 399.49,743.24 399.49,772.13" fill="#ffff00"/><polygon points="504.38,732.24 479.38,717.80 479.38,746.69" fill="#ffff00"/><polygon points="584.28,770.41 559.28,755.96 559.28,784.85" fill="#ffff00"/><polygon points="664.18,775.44 639.18,761.00 639.18,789.89" fill="#ffff00"/><polygon points="744.07,815.02 719.07,800.57 719.07,829.46" fill="#ffff00"/><polygon points="823.97,888.87 798.97,874.43 798.97,903.31" fill="#ffff00"/><polygon points="903.86,950.44 878.86,936.00 878.86,964.89" fill="#ffff00"/><polygon points="983.76,986.75 958.76,972.31 958.76,1001.19" fill="#ffff00"/><polygon points="1063.66,999.29 1038.66,984.85 1038.66,1013.74" fill="#ffff00"/><polygon points="1143.55,1006.71 1118.55,992.27 1118.55,1021.16" fill="#ffff00"/><polygon points="1223.45,1012.99 1198.45,998.54 1198.45,1027.43" fill="#ffff00"/><polygon points="1303.34,1017.84 1278.34,1003.40 1278.34,1032.29" fill="#ffff00"/><polygon points="1383.24,1020.14 1358.24,1005.70 1358.24,1034.58" fill="#ffff00"/><polygon points="1463.14,1021.38 1438.14,1006.93 1438.14,1035.82" fill="#ffff00"/>
</g></g>
<rect x="780.8" y="187.6" width="274.8" height="453.1" fill="#fff" stroke="#000" stroke-width="1.3"/>
<path transform="scale(1,1.132)" d="M810.5,197.35H911.9" stroke="#000000" stroke-width="7.6" stroke-linecap="round" fill="none"/>
<rect x="850.15" y="211.05" width="22.1" height="24.70" fill="#000000"/>
<text aria-label="PCM1" transform="translate(0,244.2) scale(1,1.2)" font-size="50" y="0"><tspan x="938.2" textLength="22.3" lengthAdjust="spacingAndGlyphs">P</tspan><tspan x="964" textLength="22.5" lengthAdjust="spacingAndGlyphs">C</tspan><tspan x="988" textLength="25" lengthAdjust="spacingAndGlyphs">M</tspan><tspan x="1014.3" textLength="22.3" lengthAdjust="spacingAndGlyphs">1</tspan></text>
<path transform="scale(1,1.132)" d="M810.5,254.40H911.9" stroke="#ff0000" stroke-width="7.6" stroke-linecap="round" fill="none"/>
<ellipse cx="861.20" cy="287.98" rx="11.75" ry="14.05" fill="#ff0000"/>
<text aria-label="PCM2" transform="translate(0,308.8) scale(1,1.2)" font-size="50" y="0"><tspan x="938.2" textLength="22.3" lengthAdjust="spacingAndGlyphs">P</tspan><tspan x="964" textLength="22.5" lengthAdjust="spacingAndGlyphs">C</tspan><tspan x="988" textLength="25" lengthAdjust="spacingAndGlyphs">M</tspan><tspan x="1014.3" textLength="22.3" lengthAdjust="spacingAndGlyphs">2</tspan></text>
<path transform="scale(1,1.132)" d="M810.5,311.45H911.9" stroke="#0000ff" stroke-width="7.6" stroke-linecap="round" fill="none"/>
<polygon points="846.70,362.06 875.70,362.06 861.20,333.66" fill="#00ff00"/>
<text aria-label="PCM3" transform="translate(0,373.4) scale(1,1.2)" font-size="50" y="0"><tspan x="938.2" textLength="22.3" lengthAdjust="spacingAndGlyphs">P</tspan><tspan x="964" textLength="22.5" lengthAdjust="spacingAndGlyphs">C</tspan><tspan x="988" textLength="25" lengthAdjust="spacingAndGlyphs">M</tspan><tspan x="1014.3" textLength="22.3" lengthAdjust="spacingAndGlyphs">3</tspan></text>
<path transform="scale(1,1.132)" d="M810.5,368.50H911.9" stroke="#ff00ff" stroke-width="7.6" stroke-linecap="round" fill="none"/>
<polygon points="846.60,407.44 875.80,407.44 861.20,436.64" fill="#0000ff"/>
<text aria-label="PCM4" transform="translate(0,437.9) scale(1,1.2)" font-size="50" y="0"><tspan x="938.2" textLength="22.3" lengthAdjust="spacingAndGlyphs">P</tspan><tspan x="964" textLength="22.5" lengthAdjust="spacingAndGlyphs">C</tspan><tspan x="988" textLength="25" lengthAdjust="spacingAndGlyphs">M</tspan><tspan x="1014.3" textLength="22.3" lengthAdjust="spacingAndGlyphs">4</tspan></text>
<path transform="scale(1,1.132)" d="M810.5,425.55H911.9" stroke="#008000" stroke-width="7.6" stroke-linecap="round" fill="none"/>
<polygon points="846.05,481.72 861.20,464.22 876.35,481.72 861.20,499.22" fill="#00ffff"/>
<text aria-label="PCM5" transform="translate(0,502.5) scale(1,1.2)" font-size="50" y="0"><tspan x="938.2" textLength="22.3" lengthAdjust="spacingAndGlyphs">P</tspan><tspan x="964" textLength="22.5" lengthAdjust="spacingAndGlyphs">C</tspan><tspan x="988" textLength="25" lengthAdjust="spacingAndGlyphs">M</tspan><tspan x="1014.3" textLength="22.3" lengthAdjust="spacingAndGlyphs">5</tspan></text>
<path transform="scale(1,1.132)" d="M810.5,482.60H911.9" stroke="#000080" stroke-width="7.6" stroke-linecap="round" fill="none"/>
<polygon points="843.90,546.30 869.90,529.80 869.90,562.80" fill="#ff00ff"/>
<text aria-label="PCM6" transform="translate(0,567.1) scale(1,1.2)" font-size="50" y="0"><tspan x="938.2" textLength="22.3" lengthAdjust="spacingAndGlyphs">P</tspan><tspan x="964" textLength="22.5" lengthAdjust="spacingAndGlyphs">C</tspan><tspan x="988" textLength="25" lengthAdjust="spacingAndGlyphs">M</tspan><tspan x="1014.3" textLength="22.3" lengthAdjust="spacingAndGlyphs">6</tspan></text>
<path transform="scale(1,1.132)" d="M810.5,539.65H911.9" stroke="#8000ff" stroke-width="7.6" stroke-linecap="round" fill="none"/>
<polygon points="877.90,610.88 852.90,594.53 852.90,627.23" fill="#ffff00"/>
<text aria-label="PCM7" transform="translate(0,631.7) scale(1,1.2)" font-size="50" y="0"><tspan x="938.2" textLength="22.3" lengthAdjust="spacingAndGlyphs">P</tspan><tspan x="964" textLength="22.5" lengthAdjust="spacingAndGlyphs">C</tspan><tspan x="988" textLength="25" lengthAdjust="spacingAndGlyphs">M</tspan><tspan x="1014.3" textLength="22.3" lengthAdjust="spacingAndGlyphs">7</tspan></text>
</svg></body></html>
